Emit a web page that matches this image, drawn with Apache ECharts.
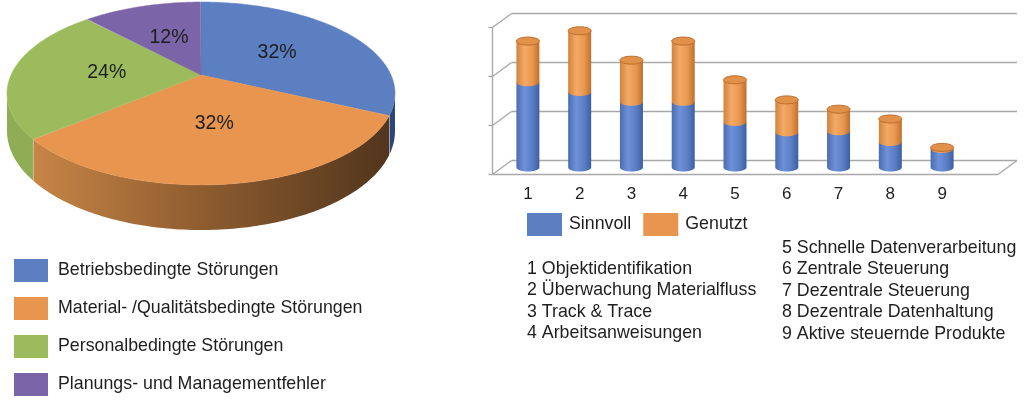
<!DOCTYPE html>
<html lang="de">
<head>
<meta charset="UTF-8">
<script src="https://cdn.jsdelivr.net/npm/echarts@6/dist/echarts.min.js"></script>
<title>Störungen und Funktionen</title>
<style>
  html, body { margin: 0; padding: 0; background: #fff; }
  #chart { width: 1024px; height: 402px; }
</style>
</head>
<body>
<div id="chart"></div>
<script>
// Kreisdiagramm: Störungsursachen (%)
var pieNames = ['Betriebsbedingte Störungen', 'Material- /Qualitätsbedingte Störungen',
                'Personalbedingte Störungen', 'Planungs- und Managementfehler'];
var pieValues = [32, 32, 24, 12];

// Säulendiagramm: Funktionen
var barCategories = ['1', '2', '3', '4', '5', '6', '7', '8', '9'];
var sinnvoll = [17.4, 15.4, 13.4, 13.4, 9.3, 7.2, 7.4, 5.2, 3.8];
var genutzt  = [8.4, 12.5, 8.5, 12.4, 8.6, 6.6, 4.5, 4.7, 0.3];
var yTicks = [0, 10, 20, 30];

var featureLabels = [
    '1 Objektidentifikation', '2 Überwachung Materialfluss', '3 Track & Trace',
    '4 Arbeitsanweisungen', '5 Schnelle Datenverarbeitung', '6 Zentrale Steuerung',
    '7 Dezentrale Steuerung', '8 Dezentrale Datenhaltung', '9 Aktive steuernde Produkte'
];

var FONT = '"Liberation Sans", Arial, sans-serif';
var TXT = '#1e1e1e';
var pieColors = ['#5b7fc1', '#e8954f', '#9cbb5c', '#7b65a8'];
var sideColors = [
    ['#3f5b92', '#2e4677'],
    ['#cf8b4a', '#8e5c2f', '#4f341c'],
    ['#8fad55', '#83a04c'],
    ['#6a5590', '#5a4880']
];

// --- 3D Kreis (Perspektive) ---
var PC = { cx: 201, cy: 75, A: 190, B: 87.7, p: 0.202, depth: 36 };
function proj(deg, r) {
    var t = deg * Math.PI / 180;
    var u = Math.sin(t) * r, w = -Math.cos(t) * r;
    var s = 1 / (1 - PC.p * w);
    return [PC.cx + PC.A * u * s, PC.cy + PC.B * w * s, s];
}
var SIL_A = Math.acos(-PC.p) * 180 / Math.PI;   // ~101.7
var SIL_B = 360 - SIL_A;

var cum = [];
(function () {
    var total = 0, acc = 0;
    pieValues.forEach(function (v) { total += v; });
    pieValues.forEach(function (v) { cum.push([acc / total * 360, (acc + v) / total * 360]); acc += v; });
})();

function renderSlice(idx) {
    return function (params, api) {
        var a0 = api.value(0), a1 = api.value(1), val = api.value(2);
        var children = [];
        // Seitenfläche
        var s0 = Math.max(a0, SIL_A), s1 = Math.min(a1, SIL_B);
        if (s1 > s0) {
            var top = [], bot = [];
            for (var d = s0; d <= s1 + 0.001; d += 1) {
                var q = proj(Math.min(d, s1), 1);
                top.push([q[0], q[1]]);
                bot.push([q[0], q[1] + PC.depth * q[2]]);
            }
            var st = sideColors[idx];
            var stops = st.map(function (c, k) { return { offset: k / (st.length - 1), color: c }; });
            children.push({
                type: 'polygon', z2: 1,
                shape: { points: top.concat(bot.reverse()) },
                style: {
                    fill: { type: 'linear', x: 10, y: 0, x2: 395, y2: 0, global: true, colorStops: stops }
                }
            });
        }
        // Deckfläche
        var pts = [[PC.cx, PC.cy]];
        for (var e = a0; e <= a1 + 0.001; e += 1) {
            var q2 = proj(Math.min(e, a1), 1);
            pts.push([q2[0], q2[1]]);
        }
        children.push({
            type: 'polygon', z2: 5,
            shape: { points: pts },
            style: { fill: pieColors[idx], stroke: pieColors[idx], lineWidth: 0.5 }
        });
        var lp = proj((a0 + a1) / 2, 0.5);
        children.push({
            type: 'text', z2: 10, x: lp[0], y: lp[1],
            style: { text: val + '%', fill: TXT, font: '19.5px ' + FONT, align: 'center', verticalAlign: 'middle' }
        });
        return { type: 'group', children: children };
    };
}

// --- 3D Säulen ---
var BAR_R = 11.5, BAR_RY = 4, DX = 19, DY = 14;
var blueStops = [
    { offset: 0, color: '#4a6cb1' }, { offset: 0.35, color: '#6e91d8' },
    { offset: 0.7, color: '#5a7ec5' }, { offset: 1, color: '#3d5fa1' }
];
var orangeStops = [
    { offset: 0, color: '#d2823c' }, { offset: 0.35, color: '#f3aa66' },
    { offset: 0.7, color: '#e8974f' }, { offset: 1, color: '#bd702e' }
];

function cylBody(x, yb, yt, stops) {
    var pts = [[x - BAR_R, yt], [x - BAR_R, yb]];
    for (var a = 180; a >= 0; a -= 10) {
        var t = a * Math.PI / 180;
        pts.push([x + BAR_R * Math.cos(t), yb + BAR_RY * Math.sin(t)]);
    }
    pts.push([x + BAR_R, yt]);
    return {
        type: 'polygon', shape: { points: pts },
        style: { fill: { type: 'linear', x: 0, y: 0, x2: 1, y2: 0, colorStops: stops } }
    };
}

function renderSinnvoll(params, api) {
    var i = api.value(0);
    var base = api.coord([i, 0]);
    var top = api.coord([i, api.value(1)]);
    return { type: 'group', children: [cylBody(base[0], base[1], top[1], blueStops)] };
}

function renderGenutzt(params, api) {
    var i = api.value(0), s = api.value(1), g = api.value(2);
    var low = api.coord([i, s]);
    var high = api.coord([i, s + g]);
    return {
        type: 'group', children: [
            cylBody(low[0], low[1], high[1], orangeStops),
            {
                type: 'ellipse',
                shape: { cx: high[0], cy: high[1], rx: BAR_R, ry: BAR_RY },
                style: { fill: '#e2914b', stroke: '#bd6e2e', lineWidth: 1 }
            }
        ]
    };
}

function renderFrame(params, api) {
    var cs = params.coordSys;
    var fx0 = cs.x - DX / 2, bx0 = cs.x + DX / 2;
    var fx1 = cs.x + cs.width + 30, bx1 = cs.x + cs.width + 30 + DX;
    var lineStyle = { stroke: '#a8a8a8', lineWidth: 1.4 };
    var kids = [];
    function ln(x1, y1, x2, y2) {
        kids.push({ type: 'line', shape: { x1: x1, y1: y1, x2: x2, y2: y2 }, style: lineStyle });
    }
    var y0 = api.coord([0, yTicks[0]])[1];
    var yTop = api.coord([0, yTicks[yTicks.length - 1]])[1];
    yTicks.forEach(function (v) {
        var y = api.coord([0, v])[1];
        ln(bx0, y - DY / 2, bx1, y - DY / 2);
        ln(fx0, y + DY / 2, bx0, y - DY / 2);
        ln(fx0 - 4, y + DY / 2, fx0, y + DY / 2);
    });
    ln(fx0, y0 + DY / 2, fx0, yTop + DY / 2);
    ln(fx0, y0 + DY / 2, fx1, y0 + DY / 2);
    ln(fx1, y0 + DY / 2, bx1, y0 - DY / 2);
    return { type: 'group', children: kids };
}

var pieSeries = pieNames.map(function (name, i) {
    return {
        name: name, type: 'custom', coordinateSystem: 'none',
        itemStyle: { color: pieColors[i] },
        renderItem: renderSlice(i),
        data: [[cum[i][0], cum[i][1], pieValues[i]]],
        silent: true
    };
});

var graphics = featureLabels.map(function (txt, k) {
    var leftCol = k < 4;
    var y = leftCol ? 269 + k * 21.5 : 248 + (k - 4) * 21.5;
    return {
        type: 'text', x: leftCol ? 527 : 782, y: y,
        style: { text: txt, fill: TXT, font: '17.8px ' + FONT, verticalAlign: 'middle' }
    };
});

var chart = echarts.init(document.getElementById('chart'));
chart.setOption({
    animation: false,
    backgroundColor: '#ffffff',
    textStyle: { fontFamily: FONT },
    legend: [{
        data: pieNames, orient: 'vertical', left: 14, top: 259, padding: 0,
        icon: 'rect', itemWidth: 34, itemHeight: 23, itemGap: 15,
        textStyle: { fontSize: 17.8, color: TXT, fontFamily: FONT, padding: [0, 0, 0, 5] },
        selectedMode: false
    }, {
        data: ['Sinnvoll', 'Genutzt'], orient: 'horizontal', left: 527, top: 213, padding: 0,
        icon: 'rect', itemWidth: 35, itemHeight: 23, itemGap: 12,
        textStyle: { fontSize: 17.8, color: TXT, fontFamily: FONT, padding: [0, 0, 0, 2] },
        selectedMode: false
    }],
    grid: { left: 502, width: 466, top: 20.5, height: 147 },
    xAxis: {
        type: 'category', data: barCategories,
        axisLine: { show: false }, axisTick: { show: false },
        axisLabel: { fontSize: 17, color: TXT, margin: 18, fontFamily: FONT }
    },
    yAxis: {
        type: 'value', min: 0, max: 30, interval: 10,
        axisLabel: { show: false }, axisLine: { show: false },
        axisTick: { show: false }, splitLine: { show: false }
    },
    graphic: graphics,
    series: pieSeries.concat([{
        name: 'frame', type: 'custom', renderItem: renderFrame,
        data: [[0, 0]], silent: true, z: 1
    }, {
        name: 'Sinnvoll', type: 'custom', renderItem: renderSinnvoll,
        itemStyle: { color: '#5b7fc1' },
        data: sinnvoll.map(function (v, i) { return [i, v]; }),
        encode: { x: 0, y: 1 }, silent: true, z: 3
    }, {
        name: 'Genutzt', type: 'custom', renderItem: renderGenutzt,
        itemStyle: { color: '#e8954f' },
        data: genutzt.map(function (v, i) { return [i, sinnvoll[i], v]; }),
        encode: { x: 0, y: [1, 2] }, silent: true, z: 4
    }])
});
</script>
</body>
</html>
